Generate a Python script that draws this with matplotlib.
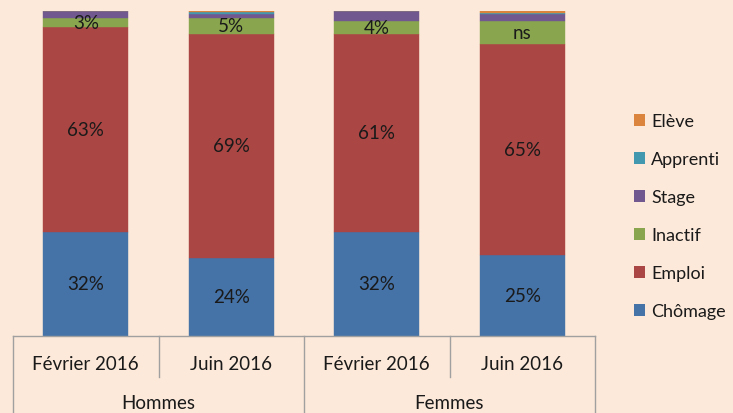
import matplotlib
matplotlib.use("Agg")
import matplotlib.pyplot as plt
from matplotlib.patches import Patch
from matplotlib.lines import Line2D
import numpy as np

plt.rcParams['font.family'] = ['Lato', 'DejaVu Sans']

# Data
periods = ["Février 2016", "Juin 2016", "Février 2016", "Juin 2016"]
groups = ["Hommes", "Femmes"]
series_names = ["Chômage", "Emploi", "Inactif", "Stage", "Apprenti", "Elève"]
chomage = [32, 24, 32, 25]
emploi = [63, 69, 61, 65]
inactif = [3, 5, 4, 7]
stage = [2, 1.2, 3, 2]
apprenti = [0, 0.5, 0, 0.5]
eleve = [0, 0.3, 0, 0.5]
labels_chomage = ["32%", "24%", "32%", "25%"]
labels_emploi = ["63%", "69%", "61%", "65%"]
labels_inactif = ["3%", "5%", "4%", "ns"]

colors = ["#4572A7", "#AA4643", "#89A54E", "#71588F", "#4198AF", "#DB843D"]
bg = "#FDE9D9"
fs = 13.5

fig = plt.figure(figsize=(7.33, 4.14), dpi=100, facecolor=bg)
ax = fig.add_axes([13 / 733, 77 / 414, 582 / 733, 325 / 414])
ax.set_facecolor(bg)

x = np.arange(len(periods))
width = 0.585
series = [chomage, emploi, inactif, stage, apprenti, eleve]
bottom = np.zeros(len(periods))
rects = []
for vals, col, name in zip(series, colors, series_names):
    r = ax.bar(x, vals, width, bottom=bottom, color=col, label=name,
               edgecolor=col, linewidth=0.3)
    rects.append(r)
    bottom += np.array(vals, dtype=float)

txt_kw = dict(ha="center", va="center", fontsize=fs, color="#1a1a1a")
for rs, labs in zip(rects[:3], [labels_chomage, labels_emploi, labels_inactif]):
    for rect, lab in zip(rs, labs):
        cx = rect.get_x() + rect.get_width() / 2
        cy = rect.get_y() + rect.get_height() / 2
        ax.text(cx, cy, lab, **txt_kw)

ax.set_xlim(-0.5, len(periods) - 0.5)
ax.set_ylim(0, 100)
for s in ax.spines.values():
    s.set_visible(False)
ax.set_xticks([])
ax.set_yticks([])

# Two-level category axis
tr = ax.get_xaxis_transform()
line_kw = dict(color="#A0A0A0", linewidth=1.0, transform=tr, clip_on=False)
ax.add_line(Line2D([-0.5, 3.5], [0, 0], **line_kw))
for xv in [-0.5, 1.5, 3.5]:
    ax.add_line(Line2D([xv, xv], [0, -0.26], **line_kw))
for xv in [0.5, 2.5]:
    ax.add_line(Line2D([xv, xv], [0, -0.126], **line_kw))

for xi, p in zip(x, periods):
    ax.text(xi, -0.086, p, transform=tr, ha="center", va="center",
            fontsize=fs, color="#1a1a1a", clip_on=False)
for gi, g in enumerate(groups):
    ax.text(2 * gi + 0.5, -0.205, g, transform=tr, ha="center", va="center",
            fontsize=fs, color="#1a1a1a", clip_on=False)

# Legend, top entry is the last series
lfs = 13
handles = [Patch(facecolor=c, edgecolor="none") for c in colors][::-1]
leg = fig.legend(handles, series_names[::-1], loc="upper left",
                 bbox_to_anchor=(627 / 733, 1 - 107 / 414), frameon=False,
                 fontsize=lfs, handlelength=0.61, handleheight=0.61,
                 handletextpad=0.33, labelspacing=1.22, borderaxespad=0)
for t in leg.get_texts():
    t.set_color("#1a1a1a")

fig.savefig("out.png", dpi=100, facecolor=bg)
